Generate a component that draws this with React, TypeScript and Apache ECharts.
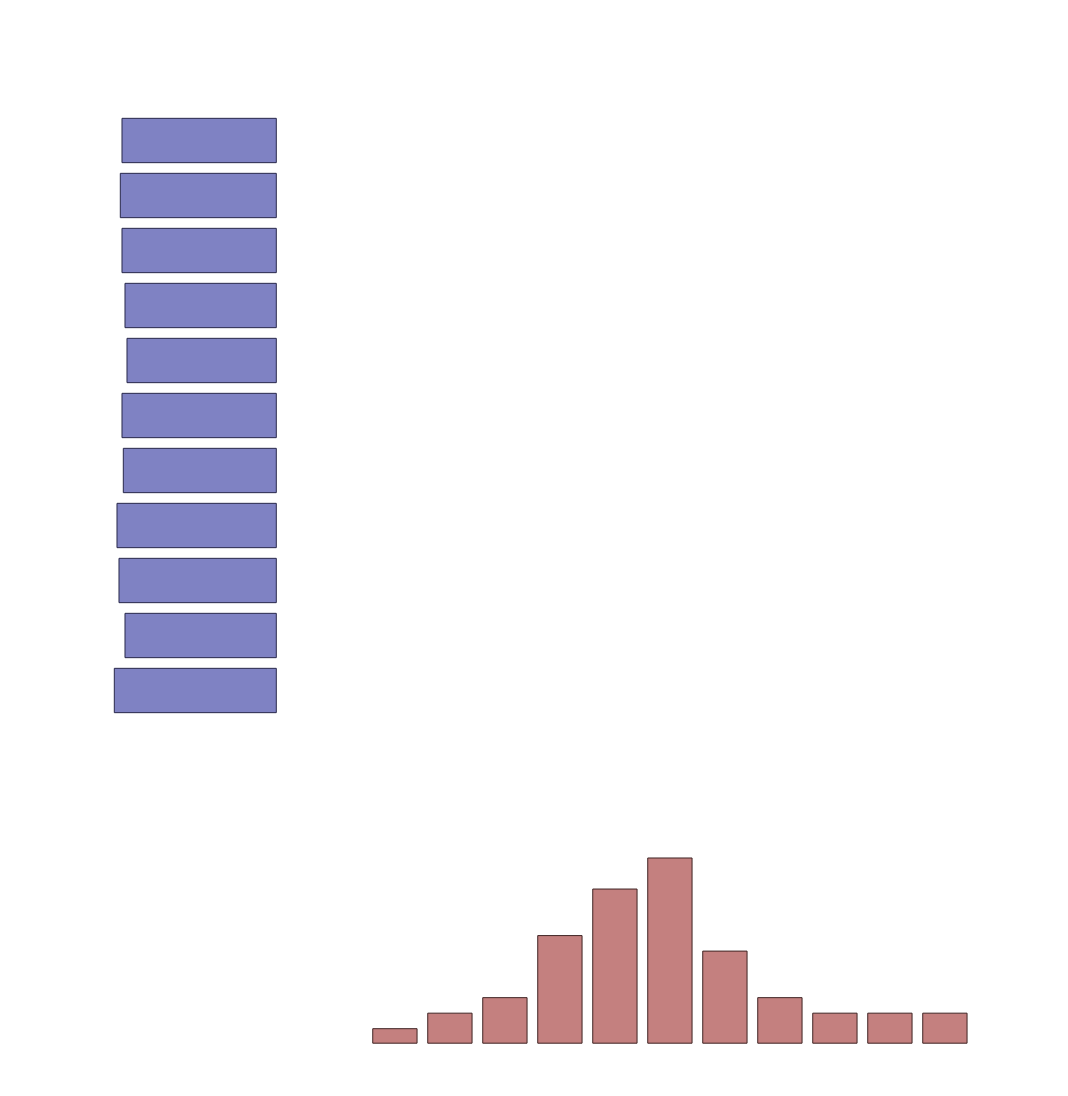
import React, { useEffect, useRef } from "react";
import * as echarts from "echarts";

// Left marginal histogram (horizontal bars, growing leftward), top to bottom
const leftCategories = ["b1", "b2", "b3", "b4", "b5", "b6", "b7", "b8", "b9", "b10", "b11"];
const leftValues = [155.3, 157, 155.3, 152.3, 150.3, 155.3, 154, 160.3, 158.3, 152.3, 163];

// Bottom marginal histogram (vertical bars), left to right
const bottomCategories = ["c1", "c2", "c3", "c4", "c5", "c6", "c7", "c8", "c9", "c10", "c11"];
const bottomValues = [1, 2, 3, 7, 10, 12, 6, 3, 2, 2, 2];

const hiddenAxis = {
  axisLine: { show: false },
  axisTick: { show: false },
  axisLabel: { show: false },
  splitLine: { show: false },
};

export default function App() {
  const ref = useRef<HTMLDivElement>(null);
  useEffect(() => {
    if (!ref.current) return;
    const chart = echarts.init(ref.current, null, { renderer: "svg" });
    chart.setOption({
      animation: false,
      backgroundColor: "#ffffff",
      grid: [
        { left: 106.8, top: 113, width: 170, height: 605 },
        { left: 367.4, top: 857.5, width: 605, height: 186.2 },
      ],
      xAxis: [
        { type: "value", gridIndex: 0, min: 0, max: 170, inverse: true, ...hiddenAxis },
        { type: "category", gridIndex: 1, data: bottomCategories, ...hiddenAxis },
      ],
      yAxis: [
        { type: "category", gridIndex: 0, data: leftCategories, inverse: true, ...hiddenAxis },
        { type: "value", gridIndex: 1, min: 0, max: 12, ...hiddenAxis },
      ],
      series: [
        {
          type: "bar",
          xAxisIndex: 0,
          yAxisIndex: 0,
          data: leftValues,
          barCategoryGap: "17.6%",
          itemStyle: { color: "#7f82c3", borderColor: "#28284a", borderWidth: 1 },
        },
        {
          type: "bar",
          xAxisIndex: 1,
          yAxisIndex: 1,
          data: bottomValues,
          barCategoryGap: "17.6%",
          itemStyle: { color: "#c4807f", borderColor: "#3f2424", borderWidth: 1 },
        },
      ],
    });
    return () => chart.dispose();
  }, []);
  return (
    <div
      ref={ref}
      style={{ position: "fixed", left: 0, top: 0, width: 1068, height: 1096 }}
    />
  );
}
